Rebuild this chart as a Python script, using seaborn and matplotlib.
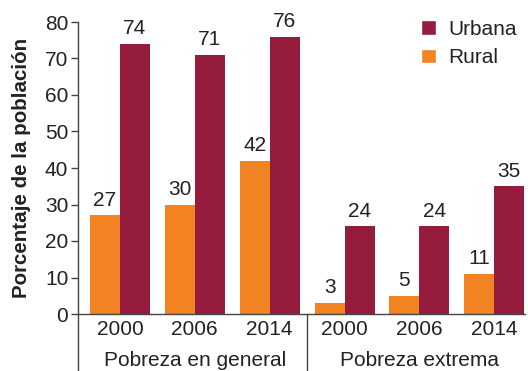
import matplotlib
matplotlib.use("Agg")
import matplotlib.pyplot as plt
from matplotlib.patches import Patch
import seaborn as sns
import pandas as pd

# Poverty rates by area (% of population)
groups = ["Pobreza en general", "Pobreza extrema"]
years = ["2000", "2006", "2014"]
rural = [27, 30, 42, 3, 5, 11]
urbana = [74, 71, 76, 24, 24, 35]
areas = ["Rural", "Urbana"]
colors = {"Rural": "#F28322", "Urbana": "#961C3D"}

cats = [f"{g}|{y}" for g in groups for y in years]
df = pd.DataFrame({
    "cat": cats * 2,
    "area": ["Rural"] * len(cats) + ["Urbana"] * len(cats),
    "valor": rural + urbana,
})

sns.set_style("ticks")
plt.rcParams["font.family"] = ["Liberation Sans", "DejaVu Sans"]
txt = "#222222"
fs = 15

fig = plt.figure(figsize=(5.28, 3.71), dpi=100)
ax = fig.add_axes([78 / 528, 1 - 314 / 371, (525 - 78) / 528, (314 - 22) / 371])

sns.barplot(data=df, x="cat", y="valor", hue="area", order=cats, hue_order=areas,
            palette=colors, width=0.8, saturation=1, linewidth=0,
            legend=False, ax=ax)

for cont in ax.containers:
    ax.bar_label(cont, fmt="%d", padding=4, fontsize=fs, color=txt)

ax.set_ylim(0, 80)
ax.set_yticks(range(0, 81, 10))
ax.set_xlim(-0.56, 5.41)
ax.set_xticks(range(len(cats)))
ax.set_xticklabels(years * 2, fontsize=fs, color=txt)
ax.tick_params(axis="x", length=0, pad=4)
ax.tick_params(axis="y", length=5, width=1, colors="#444444", labelcolor=txt,
               labelsize=fs, pad=2)
ax.set_xlabel("")
ax.set_ylabel("Porcentaje de la población", fontsize=14.8, fontweight="bold",
              color=txt, labelpad=10)

sns.despine(ax=ax)
for s in ("left", "bottom"):
    ax.spines[s].set_color("#444444")
    ax.spines[s].set_linewidth(1)

# Group separators below the axis
trans = ax.get_xaxis_transform()
for xpos in (-0.56, 2.5):
    ax.plot([xpos, xpos], [0, -0.2], transform=trans, color="#444444",
            lw=1, clip_on=False)
for i, g in enumerate(groups):
    ax.text(1 + 3 * i, -0.158, g, transform=trans, ha="center", va="center",
            fontsize=fs, color=txt)

handles = [Patch(facecolor=colors["Urbana"], label="Urbana"),
           Patch(facecolor=colors["Rural"], label="Rural")]
ax.legend(handles=handles, loc="upper right", bbox_to_anchor=(1.01, 1.05),
          frameon=False, fontsize=fs, handlelength=0.7, handleheight=0.7,
          handletextpad=0.6, labelspacing=0.45, labelcolor=txt,
          borderaxespad=0.2)

fig.savefig("out.png", dpi=100)
